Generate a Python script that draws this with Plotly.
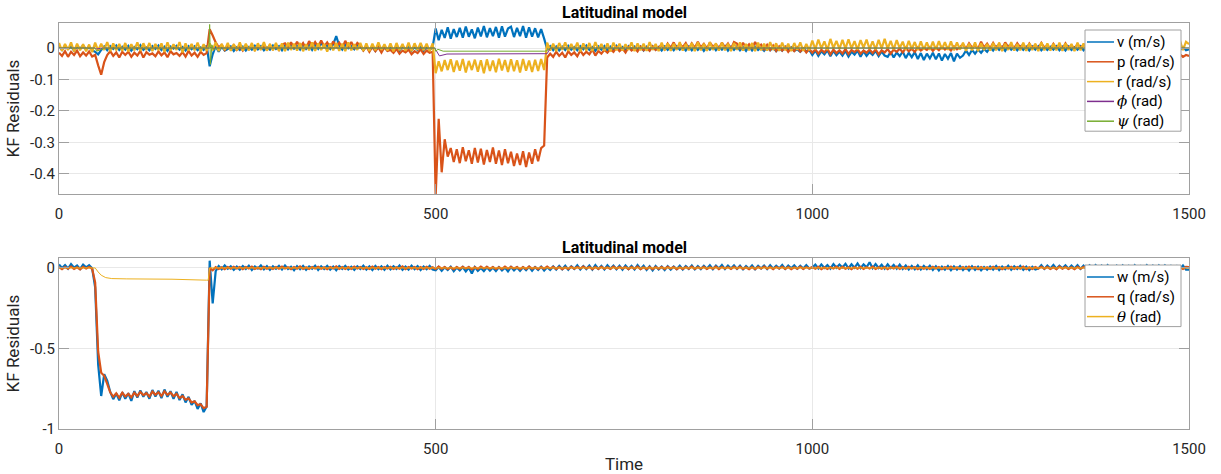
import numpy as np
import plotly.graph_objects as go

# Residual channels are logged every 4 time units; one row below = 100 time units.
DT = 4

# ---- upper panel: lateral channels, values in thousandths ----
v_milli = [
    4, -6, 7, -3, 5, -8, 6, -2, 8, -5, 3, -7, -12, -20, -6, 5, -7, 6, -3, 8, -6, 4, -5, 7, -8,
    3, -4, 9, -6, 2, -7, 6, -3, 8, -6, 4, -9, 5, -2, 7, -5, 3, -8, 6, -4, 5, -7, 2, -6, 8,
    -58, -20, 6, -12, 4, -8, -3, 5, -9, 2, -6, 4, -8, 3, -5, 7, -4, 6, -7, 2, -5, 8, -3, 6, -7,
    8, -4, 10, -2, 6, -5, 12, -3, 9, -6, 11, -2, 15, 4, 8, -3, 12, 38, 7, -5, 10, -1, 6, -4, 9,
    4, -7, 6, -8, 3, -9, 5, -6, 2, -8, 5, -7, 3, -9, 6, -5, 4, -8, 3, -6, 5, -9, 4, -7, 3,
    62, 25, 58, 32, 66, 30, 60, 35, 64, 33, 68, 36, 59, 31, 65, 37, 70, 34, 63, 38, 67, 33, 69, 36, 62,
    68, 35, 64, 38, 70, 33, 66, 36, 63, 34, 60, 30, -4, 6, -7, 5, -8, 4, -6, 7, -5, 3, -7, 6, -4,
    8, -6, 3, -9, 5, -5, 6, -8, 4, -6, 7, -5, 3, -9, 6, -4, 5, -6, 5, -8, 4, -7, 6, -5, 3,
    -8, 5, -6, 4, -7, 6, -5, 3, -8, 5, -7, 4, -6, 5, -9, 3, -5, 6, -7, 4, -5, 6, -8, 4, -6,
    5, -7, 3, -9, 5, -8, 4, -6, 2, -9, 3, -7, 1, -10, 0, -8, 4, -6, 2, -9, -4, -12, -2, -10, -6,
    -22, -8, -25, -10, -20, -7, -26, -9, -23, -11, -24, -9, -27, -12, -21, -8, -28, -10, -25, -13, -22, -9, -26, -11, -24,
    -28, -12, -30, -14, -26, -11, -32, -15, -29, -13, -35, -16, -38, -18, -33, -15, -36, -17, -40, -19, -34, -16, -42, -18, -31,
    -24, -8, -22, -6, -18, -5, -15, -3, -12, 2, -8, 5, -6, 4, -9, 6, -5, 3, -7, 5, -6, 4, -8, 5, -5,
    6, -7, 3, -6, 4, -5, 6, -7, 4, -8, 5, -6, 3, -5, 6, -7, 4, -6, 5, -8, 3, -5, 6, -7, 4,
    -6, 5, -8, 4, -5, 6, -7, 3, -9, 5, -6, 4, -8, 5, -5, 6, -7, 3, -6, 4, -8, 5, -6, 3, -7,
    -4,
]

p_milli = [
    -15, -25, -10, -28, -12, -22, -8, -26, -14, -24, -11, -27, -22, -55, -85, -45, -22, -10, -25, -14, -30, -12, -22, -12, -28,
    -15, -24, -9, -30, -13, -21, -17, -26, -11, -23, -14, -29, -10, -20, -16, -25, -13, -27, -9, -24, -15, -28, -12, -22, -16,
    60, 40, 18, 2, 10, -6, 8, -3, 9, -6, 5, -8, 7, -4, 10, -6, 8, -3, 6, -5, 9, -4, 7, -6, 11,
    15, 2, 18, 0, 20, 3, 16, -2, 22, 5, 19, 4, 24, 6, 18, 2, 21, 5, 17, 0, 23, 3, 19, 1, 16,
    8, -8, 5, -12, 4, -10, 2, -14, 3, -9, -6, -15, -3, -18, -8, -14, -5, -20, -10, -16, -4, -19, -8, -15, -12,
    -470, -225, -395, -290, -345, -318, -362, -322, -366, -315, -360, -325, -368, -318, -364, -320, -370, -324, -362, -316, -368, -326, -372, -322, -366,
    -330, -375, -335, -372, -328, -378, -332, -368, -322, -360, -318, -310, -30, -18, -28, -12, -25, -15, -30, -10, -22, -14, -26, -8, -22,
    -12, -20, -5, -24, -9, -18, -6, -15, -4, -12, 2, -10, -2, -14, 3, -8, 0, -11, 4, -7, 1, -9, 5, -6, 2,
    10, -4, 14, 0, 18, -2, 12, 3, 16, -3, 15, 0, 20, 2, 13, -2, 18, 4, 12, -1, 17, 1, 14, -3, 19,
    14, -3, 17, 1, 12, -2, 19, 3, 11, -4, 10, -6, 8, -9, 5, -8, 3, -12, 0, -10, 2, -11, -1, -14, -3,
    -15, -4, -18, -6, -14, -2, -20, -5, -16, -7, -17, -3, -19, -6, -13, -4, -18, -8, -15, -5, -16, -4, -20, -7, -14,
    -3, -18, -5, -12, -2, -14, 0, -10, -3, -12, 2, -8, -1, -6, 3, -9, 1, -7, 4, -5, 2, -8, 5, -4, 3,
    12, -2, 15, 1, 10, -3, 20, 2, 14, -1, 16, 0, 13, -2, 18, 3, 11, -1, 15, 2, 12, -3, 14, 0, 10,
    -2, 16, 1, 9, -4, 13, -1, 11, -3, 15, 0, 9, -2, 12, 1, 10, -4, 12, -1, 8, -3, 11, 0, 9, -2,
    6, -5, 8, -3, 4, -8, 2, -6, 7, -4, 5, -7, 3, -5, 6, -8, 4, -6, 2, -10, -5, -15, -20, -28, -22,
    -25,
]

r_milli = [
    16, -9, 13, -6, 18, -11, 14, -7, 12, -10, 11, -13, 17, -8, 14, -6, 19, -10, 15, -7, 13, -9, 16, -11, 12,
    -7, 18, -9, 15, -6, 16, -10, 13, -7, 15, -12, 18, -8, 12, -6, 19, -14, 15, -8, 13, -7, 17, -10, 12, -9,
    15, -7, 18, -10, 13, -6, 16, -9, 12, -7, 18, -8, 14, -7, 16, -10, 15, -6, 19, -8, 13, -7, 16, -9, 15,
    -10, 17, -6, 14, -8, 16, -10, 12, -7, 18, -9, 15, -6, 13, -11, 15, -7, 16, -9, 14, -10, 18, -7, 12, -6,
    16, -9, 15, -10, 14, -7, 18, -6, 12, -8, 15, -11, 16, -7, 13, -9, 17, -10, 15, -6, 16, -7, 14, -10, 15,
    -80, -42, -74, -38, -70, -36, -76, -40, -72, -35, -78, -41, -70, -37, -75, -39, -80, -36, -73, -40, -77, -34, -71, -38, -76,
    -36, -74, -39, -78, -35, -72, -40, -76, -37, -73, -35, -70, 17, -8, 14, -10, 16, -6, 18, -9, 13, -7, 17, -11, 15,
    -8, 16, -10, 19, -6, 13, -9, 15, -11, 17, -7, 14, -8, 12, -6, 18, -10, 15, -7, 14, -9, 19, -6, 13, -10,
    17, -7, 15, -9, 14, -6, 19, -8, 13, -7, 16, -10, 18, -7, 14, -9, 19, -6, 15, -8, 17, -7, 14, -10, 16,
    -6, 18, -8, 13, -7, 16, -10, 17, -7, 14, -8, 19, -6, 15, -9, 17, -7, 14, -10, 16, -6, 18, -9, 13, -7,
    24, -4, 27, -1, 21, -6, 29, 0, 23, -3, 26, -2, 28, -1, 22, -5, 25, 1, 27, -3, 21, -4, 26, -1, 29,
    -2, 23, -4, 25, 0, 20, -6, 23, -3, 19, -7, 21, -5, 18, -6, 20, -5, 22, -4, 19, -6, 21, -7, 18, -5,
    17, -9, 14, -7, 18, -10, 15, -6, 13, -8, 16, -7, 17, -10, 14, -6, 19, -8, 13, -7, 17, -9, 15, -6, 14,
    -10, 18, -7, 15, -8, 14, -7, 17, -9, 15, -6, 13, -10, 17, -7, 15, -8, 14, -7, 18, -10, 15, -6, 17, -9,
    14, -7, 17, -8, 13, -6, 15, -10, 18, -7, 14, -9, 17, -6, 15, -7, 13, -10, 17, -8, 14, -6, 24, -7, 20,
    12,
]

# attitude residuals change slowly, so they carry their own time stamps
phi_t = [0, 48, 50, 55, 60, 200, 202, 205, 210, 499, 500, 505, 515, 645, 648, 652, 1500]
phi_milli = [0, 0, -3, -1, 0, 0, 2, -1, 0, 0, -5, -25, -19, -18, -18, 0, 0]

psi_t = [0, 48, 50, 55, 60, 199, 200, 201, 203, 205, 210, 499, 500, 503, 510, 645, 648, 652, 1500]
psi_milli = [0, 0, -10, -5, 0, 0, 75, -52, 10, -5, 0, 0, -10, -4, -10, -10, -8, 0, 0]

# ---- lower panel: longitudinal channels, values in thousandths ----
w_milli = [
    22, 0, 18, -4, 24, 2, 15, -6, 20, 4, 17, -2, -120, -600, -795, -660, -700, -770, -815, -780, -822, -772, -812, -778, -825,
    -765, -805, -760, -800, -770, -812, -758, -798, -762, -808, -755, -800, -765, -812, -770, -820, -785, -835, -800, -850, -825, -875, -840, -895, -860,
    45, -220, -20, 12, -8, 15, -5, 10, -12, 8, -10, 12, -6, 14, -12, 9, -4, 16, -8, 11, -12, 10, -5, 13, -9,
    15, -6, 8, -14, 11, -8, 12, -11, 9, -5, 14, -13, 10, -7, 12, -10, 8, -14, 11, -6, 13, -9, 7, -12, 10,
    -7, 14, -10, 9, -13, 12, -8, 10, -11, 13, -9, 11, -6, 15, -12, 8, -10, 14, -7, 11, -13, 9, -8, 12, -10,
    -15, 6, -18, 4, -12, 8, -20, 3, -16, 5, -22, 2, -35, 5, -18, 0, -20, 4, -17, 3, -19, 5, -16, 2, -21,
    6, -15, 3, -18, 4, -14, 7, -17, 5, -12, 8, -16, 4, -13, 9, -10, 12, -8, 14, -11, 10, -6, 16, -9, 12,
    -7, 15, -10, 18, -6, 13, -9, 16, -5, 14, -8, 13, -11, 15, -7, 12, -10, 17, -6, 14, -12, 10, -15, 12, -9,
    8, -13, 11, -10, 9, -8, 14, -10, 12, -6, 15, -9, 11, -7, 13, -5, 17, -8, 14, -4, 18, -7, 15, -3, 16,
    -6, 14, -9, 12, -5, 16, -8, 13, -4, 15, -7, 17, -5, 14, -3, 18, -6, 15, -2, 16, -5, 13, -4, 17, -3,
    2, 20, -3, 22, 0, 18, -4, 24, 1, 21, 3, 25, -2, 23, 1, 28, -1, 22, 4, 35, -2, 24, 0, 20, -4,
    22, -1, 19, -5, 21, -6, 15, -9, 13, -8, 16, -10, 12, -7, 14, -12, 10, -15, 8, -11, 12, -14, 9, -10, 11,
    -13, 7, -16, 10, -12, 8, -15, 6, -11, 9, -10, 12, -13, 9, -8, 14, -11, 10, -7, 13, -12, 8, -14, 7, -10,
    -4, 17, -6, 15, -3, 18, -5, 14, -2, 16, -5, 15, -3, 17, -6, 14, -4, 16, -2, 18, -4, 15, -5, 17, -3,
    -6, 14, -8, 15, -5, 13, -9, 16, -7, 12, -5, 17, -6, 14, -8, 15, -4, 16, -7, 13, -9, 12, -6, 15, -10,
    -10,
]

q_milli = [
    5, -8, 6, -5, 8, -6, 4, -9, 7, -4, 6, -5, -90, -520, -650, -670, -720, -772, -800, -778, -806, -775, -798, -782, -804,
    -775, -795, -770, -790, -778, -798, -768, -788, -772, -795, -766, -788, -774, -796, -782, -808, -795, -818, -810, -835, -828, -852, -846, -870, -862,
    0, -15, 5, -6, 4, -8, 6, -5, 7, -4, 6, -7, 5, -4, 8, -6, 3, -8, 7, -5, 4, -7, 6, -5, 8,
    -3, 5, -7, 6, -5, 9, -6, 4, -7, 6, -4, 7, -5, 4, -8, 6, -4, 9, -6, 5, -7, 5, -6, 8, -4,
    6, -7, 4, -6, 8, -5, 5, -8, 6, -4, 7, -6, 4, -5, 9, -7, 5, -4, 6, -8, 5, -6, 7, -5, 4,
    -6, 8, -5, 6, -7, 4, -8, 6, -5, 7, -4, 6, -9, 5, -6, 8, -4, 7, -5, 6, -7, 4, -6, 8, -5,
    7, -4, 6, -8, 5, -6, 8, -5, 4, -7, 6, -5, 8, -4, 7, -6, 5, -8, 4, -6, 7, -5, 6, -4, 8,
    -4, 6, -8, 5, -6, 7, -5, 4, -6, 8, -5, 6, -4, 5, -7, 6, -5, 8, -7, 4, -6, 5, -7, 6, -5,
    5, -6, 7, -4, 6, -8, 4, -7, 5, -5, 8, -6, 5, -4, 7, -6, 4, -5, 8, -7, 6, -4, 5, -6, 7,
    -5, 7, -6, 4, -8, 5, -7, 6, -4, 8, -5, 5, -7, 6, -4, 7, -6, 5, -8, 4, -5, 7, -6, 5, -4,
    6, -5, 7, -7, 4, -6, 5, -4, 8, -6, 7, -5, 4, -8, 6, -5, 7, -6, 5, -4, 8, -6, 4, -5, 6,
    -7, 5, -4, 8, -6, 6, -5, 7, -4, 5, -8, 6, -5, 4, -6, 7, -4, 6, -7, 5, -5, 8, -6, 4, -7,
    5, -6, 8, -4, 6, -7, 5, -5, 4, -6, 7, -5, 6, -8, 4, -4, 7, -6, 5, -5, 8, -7, 4, -6, 6,
    -4, 7, -5, 6, -6, 4, -7, 8, -5, 5, -6, 4, -8, 7, -5, 6, -4, 5, -7, 8, -6, 4, -5, 7, -6,
    6, -5, 4, -7, 8, -6, 5, -4, 7, -5, 6, -8, 4, -6, 7, -5, 5, -4, 8, -7, 6, -5, 4, -6, 7,
    5,
]

theta_t = [0, 48, 52, 56, 62, 70, 90, 150, 196, 198, 200, 1500]
theta_milli = [0, 0, -25, -45, -60, -66, -68, -70, -76, -76, 0, 0]

BLUE, ORANGE, YELLOW, PURPLE, GREEN = "#0072BD", "#D95319", "#EDB120", "#7E2F8E", "#77AC30"
FONT = "Roboto, Arial, sans-serif"
SERIF_I = "<span style='font-family:DejaVu Serif'><i>{}</i></span>"

# figure geometry in pixels
W, H = 1221, 474
ML, MR, MT, MB = 59, 32, 23, 45
PW, PH = W - ML - MR, H - MT - MB

fig = go.Figure()


def add_line(x, y_milli, color, panel, width):
    xa, ya = ("x", "y") if panel == 1 else ("x2", "y2")
    if x is None:
        x = np.arange(len(y_milli)) * DT
    fig.add_trace(go.Scatter(
        x=x, y=np.asarray(y_milli) / 1000.0, mode="lines", showlegend=False,
        line=dict(color=color, width=width, simplify=False), xaxis=xa, yaxis=ya,
        hoverinfo="skip",
    ))


NOISY_W = 2.2
top_entries = [
    (None, v_milli, "v (m/s)", BLUE, NOISY_W),
    (None, p_milli, "p (rad/s)", ORANGE, NOISY_W),
    (None, r_milli, "r (rad/s)", YELLOW, NOISY_W),
    (phi_t, phi_milli, SERIF_I.format("ϕ") + " (rad)", PURPLE, 1.0),
    (psi_t, psi_milli, SERIF_I.format("ψ") + " (rad)", GREEN, 1.0),
]
bottom_entries = [
    (None, w_milli, "w (m/s)", BLUE, NOISY_W),
    (None, q_milli, "q (rad/s)", ORANGE, NOISY_W),
    (theta_t, theta_milli, SERIF_I.format("θ") + " (rad)", YELLOW, 1.0),
]
for x, y, _, c, lw in top_entries:
    add_line(x, y, c, 1, lw)
for x, y, _, c, lw in bottom_entries:
    add_line(x, y, c, 2, lw)


def px_x(px):
    return (px - ML) / PW


def px_y(py):
    return (H - MB - py) / PH


# boxed legends in the upper-right corner of each panel
shapes, annotations = [], []


def legend_box(entries, top_px):
    row = 19.8
    left, right = 1085, 1181
    bottom_px = top_px + 12 + row * (len(entries) - 1) + 10
    shapes.append(dict(type="rect", xref="paper", yref="paper",
                       x0=px_x(left), x1=px_x(right), y0=px_y(bottom_px), y1=px_y(top_px),
                       fillcolor="white", line=dict(color="#a0a0a0", width=1), layer="above"))
    for k, (_, _, label, color, _) in enumerate(entries):
        cy = top_px + 12 + row * k
        shapes.append(dict(type="line", xref="paper", yref="paper",
                           x0=px_x(left + 2), x1=px_x(left + 29), y0=px_y(cy), y1=px_y(cy),
                           line=dict(color=color, width=1.5), layer="above"))
        annotations.append(dict(text=label, xref="paper", yref="paper",
                                x=px_x(left + 30), y=px_y(cy), xanchor="left", yanchor="middle",
                                showarrow=False, font=dict(family=FONT, size=15, color="#000000")))


legend_box(top_entries, 30)
legend_box(bottom_entries, 265)

top_domain = [px_y(194), 1.0]
bot_domain = [0.0, px_y(258)]

for dom, shift in ((top_domain, -1), (bot_domain, -1)):
    annotations.append(dict(text="<b>Latitudinal model</b>", xref="paper", yref="paper",
                            x=0.5, y=dom[1], xanchor="center", yanchor="bottom", yshift=shift,
                            showarrow=False, font=dict(family=FONT, size=16, color="#000000")))

x_ticks = [0, 500, 1000, 1500]
axis_common = dict(
    showline=True, linecolor="#a0a0a0", linewidth=1, mirror="ticks",
    ticks="inside", ticklen=10, tickcolor="#a0a0a0", tickwidth=1,
    showgrid=True, gridcolor="#e8e8e8", gridwidth=1, zeroline=False,
    tickfont=dict(family=FONT, size=15, color="#262626"), automargin=False,
)
x_common = dict(axis_common, range=[0, 1500], tickvals=x_ticks,
                ticktext=[str(v) for v in x_ticks], ticklabelstandoff=6)

top_y_ticks = [0, -0.1, -0.2, -0.3, -0.4]
top_y_text = ["0", "-0.1", "-0.2", "-0.3", "-0.4"]
bot_y_ticks = [0, -0.5, -1]
bot_y_text = ["0", "-0.5", "-1"]

title_font = dict(family=FONT, size=17, color="#262626")

fig.update_layout(
    width=W, height=H,
    margin=dict(l=ML, r=MR, t=MT, b=MB, autoexpand=False),
    paper_bgcolor="white", plot_bgcolor="white",
    font=dict(family=FONT, size=15, color="#262626"),
    showlegend=False,
    xaxis=dict(x_common, domain=[0, 1], anchor="y"),
    yaxis=dict(axis_common, domain=top_domain, anchor="x", range=[-0.464, 0.0796],
               tickvals=top_y_ticks, ticktext=top_y_text,
               title=dict(text="KF Residuals", font=title_font, standoff=6)),
    xaxis2=dict(x_common, domain=[0, 1], anchor="y2",
                title=dict(text="Time", font=title_font, standoff=2)),
    yaxis2=dict(axis_common, domain=bot_domain, anchor="x2", range=[-1, 0.0617],
                tickvals=bot_y_ticks, ticktext=bot_y_text,
                title=dict(text="KF Residuals", font=title_font, standoff=6)),
    shapes=shapes,
    annotations=annotations,
)

fig.write_html("out.html")
